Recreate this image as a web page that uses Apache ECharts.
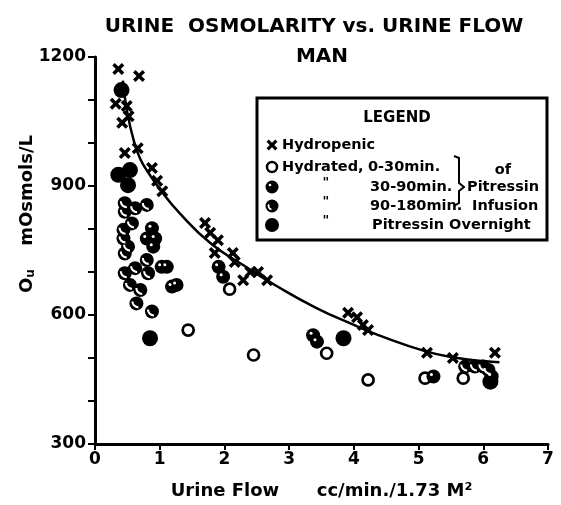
<!DOCTYPE html>
<html>
<head>
<meta charset="utf-8">
<script src="https://cdn.jsdelivr.net/npm/echarts@6/dist/echarts.min.js"></script>
<style>html,body{margin:0;padding:0;background:#fff;}#c{width:561px;height:505px;}</style>
</head>
<body>
<div id="c"></div>
<script>
// ---- data ----
const yTickLabels = [300, 600, 900, 1200];
const hydropenic = [[0.36,1172],[0.68,1156],[0.32,1091],[0.49,1086],[0.52,1062],[0.42,1047],[0.46,977],[0.66,988],[0.88,942],[0.96,912],[1.04,888],[1.70,814],[1.78,791],[1.90,774],[1.85,744],[2.13,744],[2.16,723],[2.29,681],[2.40,700],[2.52,700],[2.66,681],[3.91,605],[4.05,595],[4.14,577],[4.22,565],[5.13,512],[5.53,500],[6.18,512]];
const hydrated0to30 = [[1.44,565],[2.08,660],[2.45,507],[3.58,511],[4.22,449],[5.10,453],[5.69,453]];
const hydrated30to90 = [[0.88,802],[0.80,778],[0.93,778],[0.90,759],[1.03,712],[1.11,712],[1.19,666],[1.26,670],[1.91,712],[1.98,689],[3.37,553],[3.43,538],[5.23,457],[6.13,457]];
const hydrated90to180 = [[0.46,860],[0.46,840],[0.62,848],[0.80,856],[0.57,813],[0.44,798],[0.44,778],[0.51,759],[0.46,743],[0.46,697],[0.62,709],[0.80,728],[0.82,697],[0.54,670],[0.70,658],[0.64,627],[0.88,608],[5.72,480],[5.87,480],[6.00,480],[6.08,472]];
const overnight = [[0.41,1123],[0.36,926],[0.54,937],[0.51,902],[0.85,546],[3.84,546],[6.11,445]];
const curveX = [0.43,0.5,0.6,0.7,0.85,1.0,1.3,1.8,2.3,2.8,3.4,4.0,4.4,5.1,5.6,6.0,6.25];
const curveY = [1145,1070,1005,963,925,893,838,765,715,668,618,577,552,516,500,493,490];

const F = '"DejaVu Sans", "Liberation Sans", sans-serif';
const X_PATH = 'path://M0,2.5 L2.5,0 L6,3.5 L9.5,0 L12,2.5 L8.5,6 L12,9.5 L9.5,12 L6,8.5 L2.5,12 L0,9.5 L3.5,6 Z';
const ARC_PATH = 'path://M0,0 A10,10 0 0 0 10,10 L10,7 A7,7 0 0 1 3,0 Z';

const chart = echarts.init(document.getElementById('c'), null, {renderer:'canvas'});

function txt(x, y, s, size, align) {
  return {type:'text', x:x, y:y, style:{text:s, font:'bold '+size+'px '+F, fill:'#000', textAlign:align||'left', textVerticalAlign:'middle'}};
}
function xGlyph(cx, cy, s) {
  const p = [[0,2.5],[2.5,0],[6,3.5],[9.5,0],[12,2.5],[8.5,6],[12,9.5],[9.5,12],[6,8.5],[2.5,12],[0,9.5],[3.5,6]];
  const k = s/12;
  return {type:'polygon', shape:{points:p.map(q=>[cx-s/2+q[0]*k, cy-s/2+q[1]*k])}, style:{fill:'#000'}};
}

const legendItems = [
  {type:'rect', shape:{x:257, y:98, width:290, height:142}, style:{fill:'#fff', stroke:'#000', lineWidth:3}},
  txt(397,118,'LEGEND',15,'center'),
  xGlyph(272,145,11),
  txt(282,145,'Hydropenic',14.5),
  {type:'circle', shape:{cx:272, cy:167, r:5}, style:{fill:'#fff', stroke:'#000', lineWidth:2.5}},
  txt(282,167,'Hydrated,',14.5),
  txt(368,167,'0-30min.',14.5),
  {type:'circle', shape:{cx:272, cy:187, r:6.5}, style:{fill:'#000'}},
  {type:'circle', shape:{cx:270, cy:185, r:1.3}, style:{fill:'#fff'}},
  txt(326,183,'"',13,'center'),
  txt(370,187,'30-90min.',14.5),
  {type:'circle', shape:{cx:272, cy:206, r:6.5}, style:{fill:'#000'}},
  {type:'arc', shape:{cx:272, cy:206, r:3.5, startAngle:Math.PI*0.55, endAngle:Math.PI*1.15}, style:{stroke:'#fff', lineWidth:1.8, fill:null}},
  txt(326,202,'"',13,'center'),
  txt(370,206,'90-180min.',14.5),
  {type:'circle', shape:{cx:272, cy:225, r:7}, style:{fill:'#000'}},
  txt(326,221,'"',13,'center'),
  txt(372,225,'Pitressin Overnight',14.5),
  {type:'polyline', shape:{points:[[454,156],[459,158],[459,183],[464,187],[459,191],[459,203],[454,206]]}, style:{stroke:'#000', lineWidth:2, fill:null}},
  txt(503,170,'of',14.5,'center'),
  txt(467,187,'Pitressin',14.5),
  txt(472,206,'Infusion',14.5)
];

const option = {
  backgroundColor:'#fff',
  animation:false,
  grid:{left:95, right:13, top:57, bottom:61, containLabel:false},
  xAxis:{
    type:'value', min:0, max:7, interval:1,
    axisLine:{lineStyle:{color:'#000', width:3}},
    axisTick:{length:6, lineStyle:{color:'#000', width:2}},
    axisLabel:{color:'#000', fontFamily:F, fontWeight:'bold', fontSize:17, margin:7},
    splitLine:{show:false},
    name:'Urine Flow      cc/min./1.73 M²', nameLocation:'middle', nameGap:38,
    nameTextStyle:{color:'#000', fontFamily:F, fontWeight:'bold', fontSize:18}
  },
  yAxis:{
    type:'value', min:300, max:1200, interval:100,
    axisLine:{lineStyle:{color:'#000', width:3}},
    axisTick:{length:7, lineStyle:{color:'#000', width:2}},
    axisLabel:{color:'#000', fontFamily:F, fontWeight:'bold', fontSize:17, margin:9,
      formatter:function(v){ return yTickLabels.indexOf(v) >= 0 ? String(v) : ''; }},
    splitLine:{show:false}
  },
  series:[
    {type:'line', data:curveX.map((x,i)=>[x,curveY[i]]), smooth:0.5, showSymbol:false, lineStyle:{color:'#000', width:2.5}, z:2, silent:true},
    {name:'Hydropenic', type:'scatter', data:hydropenic, symbol:X_PATH, symbolSize:12, itemStyle:{color:'#000', opacity:1}, z:3},
    {name:'Hydrated 0-30', type:'scatter', data:hydrated0to30, symbol:'circle', symbolSize:11, itemStyle:{color:'#fff', borderColor:'#000', borderWidth:2.7, opacity:1}, z:3},
    {name:'30-90', type:'scatter', data:hydrated30to90, symbol:'circle', symbolSize:14, itemStyle:{color:'#000', opacity:1}, z:3},
    {name:'30-90 mark', type:'scatter', data:hydrated30to90, symbol:'circle', symbolSize:3, symbolOffset:[-2,-2], itemStyle:{color:'#fff', opacity:1}, z:4, silent:true},
    {name:'90-180', type:'scatter', data:hydrated90to180, symbol:'circle', symbolSize:14, itemStyle:{color:'#000', opacity:1}, z:3},
    {name:'90-180 mark', type:'scatter', data:hydrated90to180, symbol:ARC_PATH, symbolSize:7, symbolOffset:[-1.5,1.5], itemStyle:{color:'#fff', opacity:1}, z:4, silent:true},
    {name:'Overnight', type:'scatter', data:overnight, symbol:'circle', symbolSize:16, itemStyle:{color:'#000', opacity:1}, z:3}
  ],
  graphic:[
    txt(314,27,'URINE  OSMOLARITY vs. URINE FLOW',20,'center'),
    txt(322,57,'MAN',20,'center'),
    {type:'text', x:27, y:214, rotation:Math.PI/2,
      style:{text:'{a|O}{b|u}       {a|mOsmols/L}', textAlign:'center', textVerticalAlign:'middle', fill:'#000',
        rich:{a:{font:'bold 18px '+F, fill:'#000'}, b:{font:'bold 12px '+F, fill:'#000', padding:[8,0,0,0]}}}},
    {type:'group', children:legendItems, z:10}
  ]
};
chart.setOption(option);
</script>
</body>
</html>
